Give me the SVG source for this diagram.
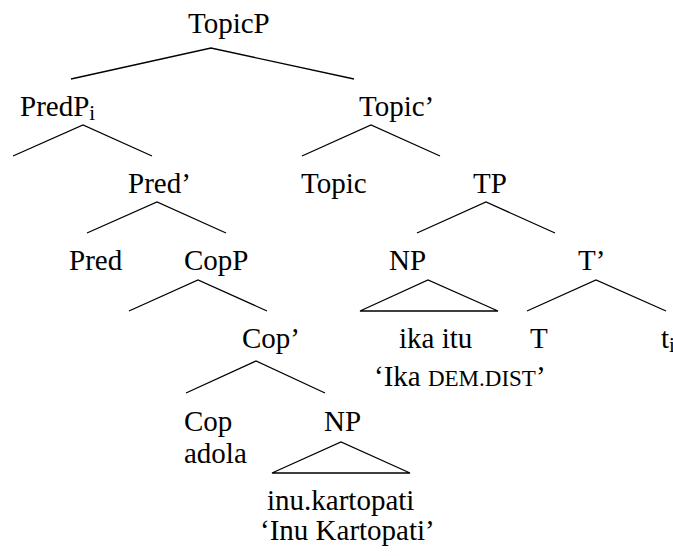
<svg xmlns="http://www.w3.org/2000/svg" width="673" height="556" viewBox="0 0 673 556">
  <style>
    text { font-family: "Liberation Serif", "Times New Roman", serif; font-size: 29px; fill: #000; }
    .sub { font-size: 21px; }
    .sc { font-size: 23px; }
    .edge { stroke: #000; stroke-width: 1.3; fill: none; stroke-linejoin: miter; }
  </style>
  <rect width="673" height="556" fill="#fff"/>

  <!-- branches -->
  <g id="connectors">
    <polyline class="edge" points="71,79 211,48 354,79"/>
    <polyline class="edge" points="13,156 83,125 152,156"/>
    <polyline class="edge" points="302,156 371,125 440,156"/>
    <polyline class="edge" points="87,233 157,202 226,233"/>
    <polyline class="edge" points="417,233 486,202 555,233"/>
    <polyline class="edge" points="129,311 198,280 267,311"/>
    <polygon class="edge" points="360,311 428,280 498,311"/>
    <polyline class="edge" points="527,311 596,280 666,311"/>
    <polyline class="edge" points="186,393 256,361 325,393"/>
    <polygon class="edge" points="272,473 341,442 410,473"/>
  </g>

  <!-- labels -->
  <g id="topicp"><text x="188" y="33">TopicP</text></g>
  <g id="predp"><text x="20" y="116">PredP<tspan class="sub" dy="4">i</tspan></text></g>
  <g id="topic-bar"><text x="359" y="116">Topic’</text></g>
  <g id="pred-bar"><text x="128" y="193">Pred’</text></g>
  <g id="topic"><text x="301" y="193">Topic</text></g>
  <g id="tp"><text x="473" y="193">TP</text></g>
  <g id="pred"><text x="69" y="270">Pred</text></g>
  <g id="copp"><text x="184" y="270">CopP</text></g>
  <g id="np-subject"><text x="389" y="270">NP</text></g>
  <g id="t-bar"><text x="578" y="270">T’</text></g>
  <g id="cop-bar"><text x="242" y="348">Cop’</text></g>
  <g id="np-subject-content">
    <text x="399" y="348">ika itu</text>
    <text x="374" y="386">‘Ika <tspan class="sc">DEM.DIST</tspan>’</text>
  </g>
  <g id="t"><text x="530" y="348">T</text></g>
  <g id="trace"><text x="661" y="348">t<tspan class="sub" dy="4">i</tspan></text></g>
  <g id="cop">
    <text x="184" y="431">Cop</text>
    <text x="184" y="463">adola</text>
  </g>
  <g id="np-pred"><text x="324" y="431">NP</text></g>
  <g id="np-pred-content">
    <text x="267" y="510">inu.kartopati</text>
    <text x="260" y="540">‘Inu Kartopati’</text>
  </g>
</svg>
